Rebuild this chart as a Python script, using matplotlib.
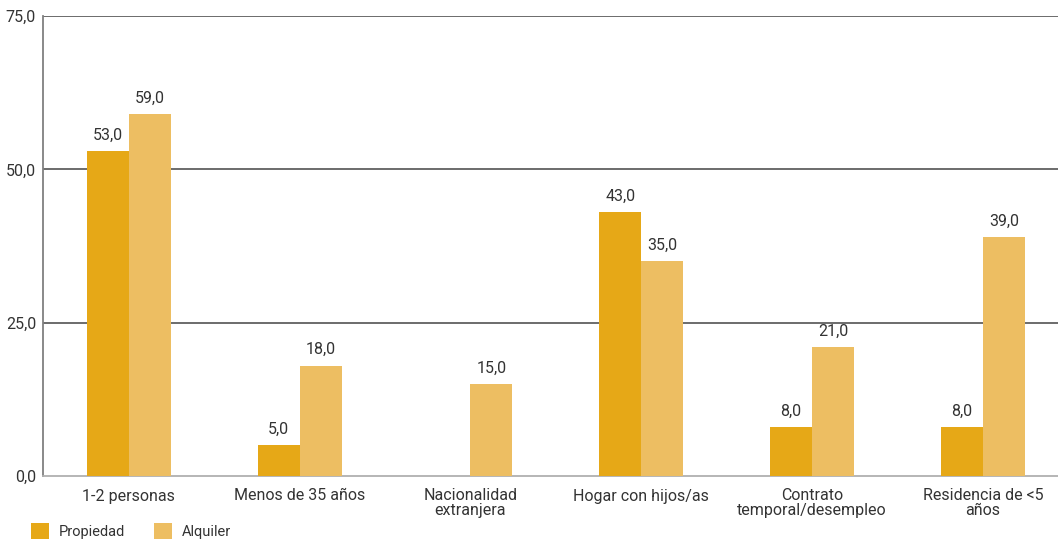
import matplotlib
matplotlib.use("Agg")
import matplotlib.pyplot as plt
import numpy as np

categories = ["1-2 personas", "Menos de 35 años", "Nacionalidad\nextranjera",
              "Hogar con hijos/as", "Contrato\ntemporal/desempleo", "Residencia de <5\naños"]
propiedad = [53.0, 5.0, None, 43.0, 8.0, 8.0]
alquiler = [59.0, 18.0, 15.0, 35.0, 21.0, 39.0]
yticks = [0, 25, 50, 75]

plt.rcParams['font.family'] = ['Roboto', 'DejaVu Sans']
c_prop = "#E6A817"
c_alq = "#EDBE62"
txt = "#333333"

fig = plt.figure(figsize=(10.58, 5.42), dpi=100)
ax = fig.add_axes([43/1058, 1-476/542, 1015/1058, 460/542])

x = np.arange(len(categories))
w = 0.245
pv = np.array([np.nan if v is None else v for v in propiedad])
av = np.array(alquiler)
ax.bar(x - w/2, np.nan_to_num(pv), w, color=c_prop, label="Propiedad", zorder=3)
ax.bar(x + w/2, av, w, color=c_alq, label="Alquiler", zorder=3)

for xi, v in zip(x - w/2, pv):
    if not np.isnan(v):
        ax.annotate(f"{v:.1f}".replace(".", ","), (xi, v), xytext=(0, 6),
                    textcoords="offset points", ha="center", va="bottom",
                    fontsize=11.5, color=txt)
for xi, v in zip(x + w/2, av):
    ax.annotate(f"{v:.1f}".replace(".", ","), (xi, v), xytext=(0, 6),
                textcoords="offset points", ha="center", va="bottom",
                fontsize=11.5, color=txt)

ax.set_ylim(0, 75)
ax.set_xlim(-0.503, 5.44)
ax.set_yticks(yticks)
ax.set_yticklabels([f"{t:.1f}".replace(".", ",") for t in yticks], fontsize=11.5, color=txt)
ax.set_xticks(x)
ax.set_xticklabels(categories, fontsize=11.5, color=txt, linespacing=0.95)
ax.tick_params(axis="both", length=0, pad=5)
ax.tick_params(axis="x", pad=9)

for t in yticks[1:]:
    ax.axhline(t, color="#606060", lw=1.3, zorder=1)
for s in ["top", "right"]:
    ax.spines[s].set_visible(False)
ax.spines["left"].set_color("#808080")
ax.spines["left"].set_linewidth(1.3)
ax.spines["bottom"].set_color("#b0b0b0")
ax.spines["bottom"].set_linewidth(1.3)

leg = fig.legend(loc="lower left", bbox_to_anchor=(0.017, -0.018), ncol=2, frameon=False,
                 fontsize=10.5, handlelength=1.2, handleheight=1.3, handletextpad=0.7,
                 columnspacing=2.0, labelcolor=txt)

fig.savefig("out.png", dpi=100)
